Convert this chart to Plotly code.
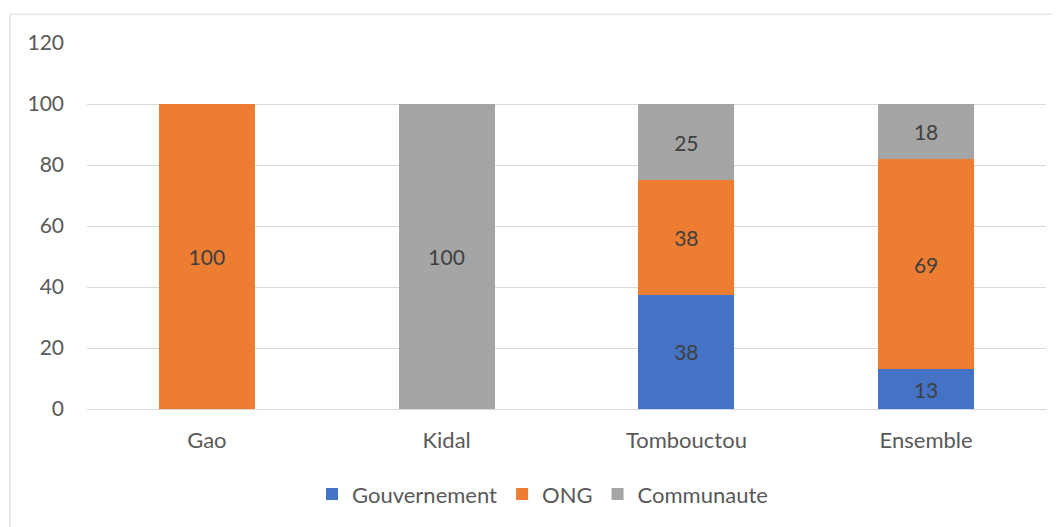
import plotly.graph_objects as go

regions = ["Gao", "Kidal", "Tombouctou", "Ensemble"]
gouvernement = [None, None, 37.5, 13]
ong = [100, None, 37.5, 69]
communaute = [None, 100, 25, 18]
y_ticks = [0, 20, 40, 60, 80, 100, 120]

FONT = "Lato"
NUM_SIZE = 21
TXT_SIZE = 22

series = [
    ("Gouvernement", gouvernement, "#4472c4"),
    ("ONG", ong, "#ed7d31"),
    ("Communaute", communaute, "#a5a5a5"),
]

fig = go.Figure()
for name, vals, color in series:
    fig.add_trace(go.Bar(
        x=regions,
        y=vals,
        name=name,
        marker=dict(color=color, line=dict(width=0)),
        texttemplate="%{y:.0f}",
        textposition="inside",
        insidetextanchor="middle",
        textfont=dict(family=FONT, size=NUM_SIZE, color="#404040"),
        constraintext="none",
    ))

# page body adds an 8px margin, so the figure is a bit smaller than the window
fig.update_layout(
    barmode="stack",
    bargap=0.6,
    width=1052,
    height=519,
    margin=dict(l=79, r=14, t=35, b=114),
    paper_bgcolor="white",
    plot_bgcolor="white",
    font=dict(family=FONT, size=TXT_SIZE, color="#595959"),
    xaxis=dict(
        showgrid=False,
        showline=True,
        linecolor="#d9d9d9",
        linewidth=1,
        ticks="",
        ticklabelstandoff=12,
        tickfont=dict(family=FONT, size=TXT_SIZE, color="#595959"),
    ),
    yaxis=dict(
        range=[0, 120],
        tickvals=y_ticks,
        showgrid=True,
        gridcolor="#d9d9d9",
        gridwidth=1,
        zeroline=False,
        ticks="",
        ticklabelstandoff=22,
        tickfont=dict(family=FONT, size=NUM_SIZE, color="#595959"),
    ),
    legend=dict(
        orientation="h",
        x=0.475,
        xanchor="center",
        y=-0.233,
        yanchor="middle",
        font=dict(family=FONT, size=TXT_SIZE, color="#595959"),
        traceorder="normal",
        itemwidth=30,
    ),
    shapes=[dict(
        type="rect",
        xref="paper",
        yref="paper",
        x0=-0.0803,
        x1=1.03,
        y0=-0.34,
        y1=1.0786,
        line=dict(color="#d9d9d9", width=1),
        fillcolor="rgba(0,0,0,0)",
    )],
)

fig.write_html("out.html")
